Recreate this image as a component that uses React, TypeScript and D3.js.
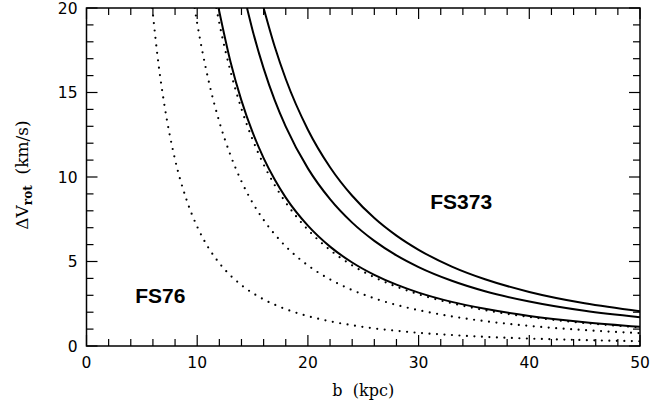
import React from "react";
import * as d3 from "d3";

// Solid curves (FS373 models)
const solid1B = [11.93, 13, 14, 15, 16, 17, 18, 20, 22, 24, 26, 28, 30, 33, 36, 40, 45, 50];
const solid1V = [20, 16.84, 14.52, 12.65, 11.12, 9.85, 8.78, 7.12, 5.88, 4.94, 4.21, 3.63, 3.16, 2.61, 2.2, 1.78, 1.41, 1.14];
const solid2B = [14.5, 15, 16, 17, 18, 20, 22, 24, 26, 28, 30, 33, 36, 40, 45, 50];
const solid2V = [20, 18.69, 16.43, 14.55, 12.98, 10.51, 8.69, 7.3, 6.22, 5.36, 4.67, 3.86, 3.24, 2.63, 2.08, 1.7];
const solid3B = [16, 17, 18, 20, 22, 24, 26, 28, 30, 33, 36, 40, 45, 50];
const solid3V = [20, 17.72, 15.8, 12.8, 10.58, 8.89, 7.57, 6.53, 5.69, 4.7, 3.95, 3.2, 2.53, 2.06];

// Dotted curves (FS76 models)
const dotAB = [5.94, 6.5, 7, 8, 9, 10, 11, 12, 14, 16, 18, 20, 22, 24, 26, 28, 30, 33, 36, 40, 45, 50];
const dotAV = [20, 16.7, 14.41, 11.03, 8.72, 7.06, 5.83, 4.9, 3.6, 2.76, 2.18, 1.77, 1.46, 1.23, 1.04, 0.9, 0.78, 0.65, 0.54, 0.44, 0.35, 0.28];
const dotBB = [9.77, 10, 11, 12, 13, 14, 15, 16, 18, 20, 22, 24, 26, 28, 30, 33, 36, 40, 45, 50];
const dotBV = [20, 19.09, 15.78, 13.26, 11.3, 9.74, 8.48, 7.46, 5.89, 4.77, 3.94, 3.31, 2.82, 2.43, 2.12, 1.75, 1.47, 1.19, 0.94, 0.76];
const dotCB = [11.73, 12, 13, 14, 15, 16, 17, 18, 20, 22, 24, 26, 28, 30, 33, 36, 40, 45, 50];
const dotCV = [20, 19.1, 16.27, 14.03, 12.22, 10.74, 9.52, 8.49, 6.88, 5.68, 4.77, 4.07, 3.51, 3.06, 2.53, 2.12, 1.72, 1.36, 1.1];

const xMajor = [0, 10, 20, 30, 40, 50];
const yMajor = [0, 5, 10, 15, 20];
const xMinor = d3.range(0, 51, 2);
const yMinor = d3.range(0, 21, 1);

const W = 669, H = 409;
const L = 86.5, R = 640, T = 8, B = 346;

export default function App() {
  const x = d3.scaleLinear().domain([0, 50]).range([L, R]);
  const y = d3.scaleLinear().domain([0, 20]).range([B, T]);
  const line = d3.line<[number, number]>().x(d => x(d[0])).y(d => y(d[1])).curve(d3.curveMonotoneX);
  const mk = (bs: number[], vs: number[]) => line(bs.map((b, i) => [b, vs[i]] as [number, number])) || "";

  const solids = [[solid1B, solid1V], [solid2B, solid2V], [solid3B, solid3V]];
  const dots = [[dotAB, dotAV], [dotBB, dotBV], [dotCB, dotCV]];
  const tickFont = "'DejaVu Sans', 'Liberation Sans', sans-serif";
  const boldFont = "'Liberation Sans', Arial, sans-serif";
  const titleFont = "'DejaVu Serif', 'Liberation Serif', serif";

  return (
    <svg width={W} height={H} style={{ position: "absolute", left: 0, top: 0, background: "#fff" }}>
      <defs>
        <clipPath id="plot">
          <rect x={L} y={T} width={R - L} height={B - T} />
        </clipPath>
      </defs>
      <rect x={0} y={0} width={W} height={H} fill="#fff" />
      <g clipPath="url(#plot)" fill="none" stroke="#000">
        {solids.map(([bs, vs], i) => (
          <path key={"s" + i} d={mk(bs, vs)} strokeWidth={2} />
        ))}
        {dots.map(([bs, vs], i) => (
          <path key={"d" + i} d={mk(bs, vs)} strokeWidth={2.2} strokeDasharray="0 7.5" strokeLinecap="round" />
        ))}
      </g>
      {/* frame */}
      <rect x={L} y={T} width={R - L} height={B - T} fill="none" stroke="#000" strokeWidth={1.5} />
      {/* ticks */}
      <g stroke="#000" strokeWidth={1.2}>
        {xMinor.map(v => {
          const len = v % 10 === 0 ? 11 : 7;
          return (
            <g key={"xt" + v}>
              <line x1={x(v)} x2={x(v)} y1={B} y2={B - len} />
              <line x1={x(v)} x2={x(v)} y1={T} y2={T + len} />
            </g>
          );
        })}
        {yMinor.map(v => {
          const len = v % 5 === 0 ? 11 : 7;
          return (
            <g key={"yt" + v}>
              <line x1={L} x2={L + len} y1={y(v)} y2={y(v)} />
              <line x1={R} x2={R - len} y1={y(v)} y2={y(v)} />
            </g>
          );
        })}
      </g>
      {/* tick labels */}
      <g fontFamily={tickFont} fontSize={15.5} fill="#000">
        {xMajor.map(v => (
          <text key={"xl" + v} x={x(v)} y={B + 22} textAnchor="middle">{v}</text>
        ))}
        {yMajor.map(v => (
          <text key={"yl" + v} x={L - 9} y={y(v) + 5.5} textAnchor="end">{v}</text>
        ))}
      </g>
      {/* axis titles */}
      <text x={(L + R) / 2} y={396} textAnchor="middle" fontFamily={titleFont} fontSize={16} xmlSpace="preserve">b  (kpc)</text>
      <text transform={`translate(28, 175) rotate(-90)`} textAnchor="middle" fontFamily={titleFont} fontSize={17} xmlSpace="preserve">
        ΔV<tspan fontSize={12} fontWeight="bold" dy={4}>rot</tspan><tspan dy={-4}>  (km/s)</tspan>
      </text>
      {/* annotations */}
      <text x={x(31.05)} y={y(8.1)} fontFamily={boldFont} fontWeight="bold" fontSize={21}>FS373</text>
      <text x={x(4.4)} y={y(2.55)} fontFamily={boldFont} fontWeight="bold" fontSize={21}>FS76</text>
    </svg>
  );
}
